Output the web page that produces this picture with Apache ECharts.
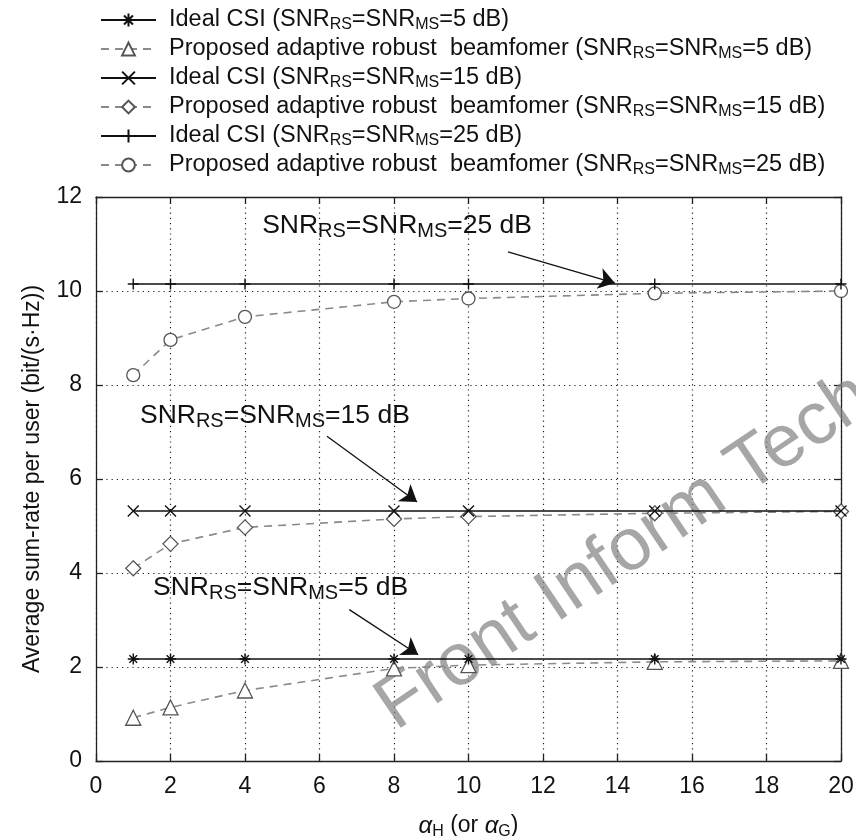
<!DOCTYPE html>
<html>
<head>
<meta charset="utf-8">
<script src="https://cdn.jsdelivr.net/npm/echarts@6/dist/echarts.min.js"></script>
<style>
  html, body { margin: 0; padding: 0; background: #fff; }
  #chart { width: 856px; height: 836px; }
</style>
</head>
<body>
<div id="chart"></div>
<script>
// alpha values on x axis
var alphaVals = [1, 2, 4, 8, 10, 15, 20];
// ideal CSI
var ideal5  = [2.17, 2.17, 2.17, 2.17, 2.17, 2.17, 2.17];
var ideal15 = [5.32, 5.32, 5.32, 5.32, 5.32, 5.32, 5.32];
var ideal25 = [10.15, 10.15, 10.15, 10.15, 10.15, 10.15, 10.15];
// proposed adaptive robust beamformer
var prop5  = [0.92, 1.14, 1.50, 1.97, 2.04, 2.11, 2.13];
var prop15 = [4.10, 4.62, 4.97, 5.15, 5.20, 5.27, 5.31];
var prop25 = [8.21, 8.96, 9.45, 9.77, 9.84, 9.95, 10.00];
var xTicks = [0, 20, 2];
var yTicks = [0, 12, 2];

function pairs(ys) {
  return alphaVals.map(function (x, i) { return [x, ys[i]]; });
}

// marker shapes (stroked paths)
var symStar = 'path://M5,0L5,10M0,5L10,5M1.5,1.5L8.5,8.5M1.5,8.5L8.5,1.5';
var symX = 'path://M0,0L10,10M0,10L10,0';
var symPlus = 'path://M5,0L5,10M0,5L10,5';

var FONT = 'Liberation Sans, Arial, sans-serif';

function snrRich(db, big, small) {
  return '{' + big + '|SNR}{' + small + '|RS}{' + big + '|=SNR}{' + small + '|MS}{' + big + '|=' + db + ' dB}';
}

var names = ['ideal5', 'prop5', 'ideal15', 'prop15', 'ideal25', 'prop25'];

function legendLabel(name) {
  var db = name.replace(/[a-z]/g, '');
  var head = name.indexOf('ideal') === 0 ? 'Ideal CSI (' : 'Proposed adaptive robust  beamfomer (';
  return '{g|}{n|' + head + '}' + snrRich(db, 'n', 's') + '{n|)}';
}

function idealSeries(name, ys, sym) {
  return {
    name: name,
    type: 'line',
    data: pairs(ys),
    symbol: sym,
    symbolSize: 11,
    lineStyle: { color: '#111', width: 1.5, type: 'solid' },
    itemStyle: { color: 'none', borderColor: '#111', borderWidth: 1.4 },
    z: 3
  };
}

function propSeries(name, ys, sym, size) {
  return {
    name: name,
    type: 'line',
    data: pairs(ys),
    symbol: sym,
    symbolSize: size,
    lineStyle: { color: '#8a8a8a', width: 1.6, type: [8, 6] },
    itemStyle: { color: '#fff', borderColor: '#555', borderWidth: 1.3 },
    z: 2
  };
}

var annRich = {
  a: { fontSize: 26.5, fontFamily: FONT, color: '#111', lineHeight: 32 },
  b: { fontSize: 20, fontFamily: FONT, color: '#111', lineHeight: 18, verticalAlign: 'bottom' }
};

var s25 = idealSeries('ideal25', ideal25, symPlus);
s25.markPoint = {
  symbolSize: 0,
  silent: true,
  label: {
    show: true,
    position: 'right',
    distance: 0,
    rich: annRich,
    formatter: function (p) { return snrRich(p.name, 'a', 'b'); }
  },
  data: [
    { name: '25', coord: [4.46, 11.40] },
    { name: '15', coord: [1.18, 7.35] },
    { name: '5', coord: [1.53, 3.69] }
  ]
};
s25.markLine = {
  silent: true,
  symbol: ['none', 'arrow'],
  symbolSize: 16,
  label: { show: false },
  lineStyle: { color: '#111', width: 1.3, type: 'solid' },
  data: [
    [{ coord: [11.06, 10.83] }, { coord: [13.93, 10.17] }],
    [{ coord: [6.20, 6.91] }, { coord: [8.62, 5.51] }],
    [{ coord: [6.80, 3.22] }, { coord: [8.65, 2.26] }]
  ]
};

var chart = echarts.init(document.getElementById('chart'));
chart.setOption({
  animation: false,
  backgroundColor: '#fff',
  textStyle: { fontFamily: FONT },
  grid: { left: 96, right: 15, top: 197, bottom: 75, outerBoundsMode: 'none', containLabel: false },
  legend: {
    orient: 'vertical',
    left: 100,
    top: 8,
    padding: 0,
    itemWidth: 55,
    itemHeight: 16,
    itemGap: 4,
    data: names,
    selectedMode: false,
    formatter: legendLabel,
    textStyle: {
      rich: {
        g: { width: 8 },
        n: { fontSize: 23.5, fontFamily: FONT, color: '#111', lineHeight: 26 },
        s: { fontSize: 16, fontFamily: FONT, color: '#111', lineHeight: 13, verticalAlign: 'bottom' }
      }
    }
  },
  graphic: [{
    type: 'text',
    x: 405,
    y: 745,
    rotation: 34 * Math.PI / 180,
    silent: true,
    z: 1,
    style: {
      text: 'Front Inform Technol',
      font: '74px ' + FONT,
      fill: 'rgba(128,128,128,0.7)',
      textAlign: 'left',
      textVerticalAlign: 'bottom'
    }
  }],
  xAxis: [{
    type: 'value',
    min: xTicks[0], max: xTicks[1], interval: xTicks[2],
    position: 'bottom',
    name: '{i|α}{s|H}{n| (or }{i|α}{s|G}{n|)}',
    nameLocation: 'middle',
    nameGap: 51,
    nameTextStyle: {
      rich: {
        i: { fontSize: 24, fontStyle: 'italic', fontFamily: FONT, color: '#111', lineHeight: 28 },
        n: { fontSize: 23, fontFamily: FONT, color: '#111', lineHeight: 28 },
        s: { fontSize: 16, fontFamily: FONT, color: '#111', lineHeight: 14, verticalAlign: 'bottom' }
      }
    },
    axisLine: { show: true, onZero: false, lineStyle: { color: '#222', width: 1.3 } },
    axisTick: { show: true, inside: true, length: 7, lineStyle: { color: '#222', width: 1.3 } },
    axisLabel: { fontSize: 23, color: '#111', margin: 14, fontFamily: FONT },
    splitLine: { show: true, lineStyle: { color: '#222', width: 1.2, type: [1.2, 4] } }
  }, {
    type: 'value',
    min: xTicks[0], max: xTicks[1], interval: xTicks[2],
    position: 'top',
    axisLine: { show: true, onZero: false, lineStyle: { color: '#222', width: 1.3 } },
    axisTick: { show: true, inside: true, length: 7, lineStyle: { color: '#222', width: 1.3 } },
    axisLabel: { show: false },
    splitLine: { show: false }
  }],
  yAxis: [{
    type: 'value',
    min: yTicks[0], max: yTicks[1], interval: yTicks[2],
    position: 'left',
    name: 'Average sum-rate per user (bit/(s·Hz))',
    nameLocation: 'middle',
    nameGap: 52,
    nameTextStyle: { fontSize: 23, color: '#111', fontFamily: FONT },
    axisLine: { show: true, onZero: false, lineStyle: { color: '#222', width: 1.3 } },
    axisTick: { show: true, inside: true, length: 7, lineStyle: { color: '#222', width: 1.3 } },
    axisLabel: { fontSize: 23, color: '#111', margin: 14, fontFamily: FONT },
    splitLine: { show: true, lineStyle: { color: '#222', width: 1.2, type: [1.2, 4] } }
  }, {
    type: 'value',
    min: yTicks[0], max: yTicks[1], interval: yTicks[2],
    position: 'right',
    axisLine: { show: true, onZero: false, lineStyle: { color: '#222', width: 1.3 } },
    axisTick: { show: true, inside: true, length: 7, lineStyle: { color: '#222', width: 1.3 } },
    axisLabel: { show: false },
    splitLine: { show: false }
  }],
  series: [
    idealSeries('ideal5', ideal5, symStar),
    propSeries('prop5', prop5, 'triangle', 15),
    idealSeries('ideal15', ideal15, symX),
    propSeries('prop15', prop15, 'diamond', 15),
    s25,
    propSeries('prop25', prop25, 'circle', 13)
  ]
});
</script>
</body>
</html>
